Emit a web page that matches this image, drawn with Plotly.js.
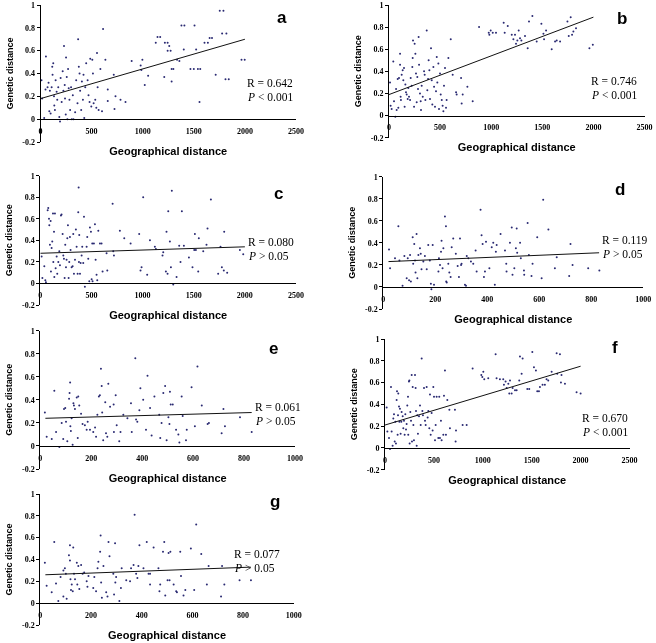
<!DOCTYPE html>
<html><head><meta charset="utf-8">
<script src="https://cdn.plot.ly/plotly-3.0.1.min.js"></script>
<style>
html,body{margin:0;padding:0;background:#fff}
#chart{width:656px;height:643px}
#chart .main-svg{will-change:transform}
#chart .xtick text, #chart .ytick text{fill:#000 !important}
</style>
</head><body><div id="chart"></div>
<script>
// ---------------- DATA ----------------
const panelLetters = ['a','b','c','d','e','f','g'];
const rValues = ['0.642','0.746','0.080','0.119','0.061','0.670','0.077'];
const pTexts  = ['< 0.001','< 0.001','> 0.05','> 0.05','> 0.05','< 0.001','> 0.05'];
const xTitle = 'Geographical distance';
const yTitle = 'Genetic distance';
const xTicksWide = [0,500,1000,1500,2000,2500];
const xTicksNarrow = [0,200,400,600,800,1000];
const yTickVals = [-0.2,0,0.2,0.4,0.6,0.8,1];
const yTickText = ['-0.2','0','0.2','0.4','0.6','0.8','1'];

const aX = [10,16,36,49,53,69,79,92,86,99,109,115,118,125,132,135,141,148,158,164,174,184,191,197,207,217,224,230,237,240,247,250,257,263,270,276,283,290,299,306,316,322,339,349,362,368,375,382,388,398,405,415,421,428,438,447,461,470,480,487,497,507,513,520,536,546,553,559,569,586,602,612,635,658,658,717,724,734,783,832,892,980,997,987,1020,1053,1128,1145,1171,1211,1217,1244,1244,1260,1273,1283,1283,1300,1336,1359,1379,1408,1402,1507,1523,1467,1500,1540,1563,1556,1605,1638,1655,1678,1714,1754,1790,1777,1819,1810,1842,1967,1998];
const aY = [0.34,0.18,0.01,0.26,0.55,0.28,0.32,0.25,0.07,0.05,0.28,0.46,0.39,0.49,0.20,0.12,0.08,0.34,0.24,0.17,0.28,0.02,-0.02,0.36,0.15,0.42,0.25,0.64,0.30,0.18,0.04,0.54,0.37,0.00,0.44,0.27,0.17,0.08,0.28,0.00,0.21,0.00,0.06,0.34,0.14,0.70,0.46,0.40,0.25,0.08,0.33,0.17,0.39,0.01,0.28,0.49,0.34,0.21,0.15,0.53,0.11,0.52,0.40,0.14,0.17,0.10,0.58,0.28,0.08,0.44,0.07,0.79,0.52,0.26,0.16,0.39,0.09,0.20,0.17,0.15,0.51,0.47,0.52,0.43,0.30,0.38,0.67,0.72,0.72,0.37,0.67,0.67,0.60,0.64,0.60,0.33,0.44,0.44,0.52,0.51,0.82,0.82,0.61,0.82,0.61,0.44,0.44,0.44,0.44,0.15,0.67,0.67,0.71,0.71,0.39,0.95,0.95,0.75,0.75,0.35,0.35,0.52,0.52];
const aLineX = [0,2000], aLineY = [0.18,0.70];

const bX = [10,16,26,42,49,62,69,75,85,91,98,108,108,114,117,124,134,140,147,153,160,166,173,183,189,196,206,212,222,228,232,235,245,251,258,264,271,277,284,290,294,303,310,313,320,330,343,349,356,369,375,382,388,395,401,411,418,424,434,441,450,460,467,473,483,489,499,506,516,525,532,538,548,558,564,581,604,623,656,662,705,711,721,767,819,881,976,982,995,1015,1047,1122,1132,1162,1201,1217,1233,1243,1256,1269,1282,1295,1331,1357,1370,1403,1445,1491,1511,1517,1537,1592,1625,1641,1674,1746,1759,1778,1791,1804,1830,1961,1994];
const bY = [0.30,0.09,0.06,0.49,0.13,-0.01,0.24,0.05,0.33,0.07,0.34,0.56,0.46,0.17,0.14,0.37,0.41,0.32,0.43,0.08,0.28,0.21,0.19,0.15,0.25,0.17,0.14,0.34,0.27,0.44,0.52,0.68,0.08,0.65,0.56,0.38,0.12,0.35,0.24,0.71,0.46,0.20,0.13,0.05,0.27,0.17,0.40,0.37,0.14,0.77,0.23,0.33,0.50,0.41,0.15,0.61,0.32,0.10,0.44,0.26,0.08,0.22,0.53,0.30,0.47,0.06,0.38,0.19,0.14,0.09,0.04,0.27,0.43,0.07,0.14,0.52,0.69,0.37,0.21,0.19,0.34,0.11,0.19,0.26,0.13,0.80,0.75,0.73,0.77,0.75,0.75,0.84,0.75,0.81,0.73,0.69,0.73,0.65,0.68,0.77,0.70,0.68,0.72,0.61,0.85,0.90,0.67,0.83,0.74,0.69,0.77,0.60,0.67,0.68,0.67,0.85,0.72,0.89,0.73,0.76,0.79,0.61,0.64];
const bLineX = [0,2000], bLineY = [0.19,0.89];

const cX = [13,20,39,49,55,72,78,85,88,94,101,104,111,117,124,127,134,137,143,150,160,166,176,186,192,202,208,218,225,231,238,244,251,257,264,270,277,283,290,296,306,316,322,329,339,348,355,365,371,375,378,381,388,394,404,410,420,427,436,453,459,469,479,485,495,502,508,511,524,534,541,550,557,567,583,599,609,648,655,707,713,720,778,821,883,967,980,990,1006,1045,1072,1120,1130,1195,1202,1228,1234,1244,1251,1267,1277,1286,1300,1332,1358,1371,1384,1404,1453,1488,1505,1511,1521,1544,1550,1593,1625,1635,1668,1739,1762,1775,1794,1798,1827,1951,1984];
const cY = [0.25,0.05,0.16,0.03,0.01,0.68,0.70,0.60,0.54,0.36,0.58,0.11,0.33,0.39,0.65,0.20,0.48,0.06,0.65,0.14,0.25,0.09,0.20,0.30,0.17,0.63,0.64,0.46,0.26,0.23,0.05,0.36,0.15,0.22,0.42,0.54,0.05,0.20,0.43,0.31,0.15,0.16,0.46,0.09,0.22,0.50,0.34,0.09,0.66,0.89,0.20,0.45,0.09,0.19,0.26,0.34,0.19,0.62,-0.03,0.34,0.43,0.23,0.02,0.52,0.48,0.04,0.37,0.02,0.37,0.55,0.22,0.08,0.03,0.49,0.37,0.37,0.11,0.28,0.12,0.74,0.30,0.26,0.49,0.42,0.37,0.46,0.12,0.15,0.80,0.08,0.40,0.34,0.32,0.26,0.29,0.11,0.48,0.09,0.67,0.39,0.15,0.86,-0.01,0.06,0.35,0.20,0.67,0.35,0.24,0.15,0.31,0.46,0.31,0.11,0.42,0.30,0.36,0.51,0.78,0.09,0.34,0.15,0.12,0.48,0.10,0.31,0.27];
const cLineX = [0,2000], cLineY = [0.28,0.34];

const dX = [22,26,45,58,62,74,81,90,94,99,103,106,113,115,119,122,124,128,131,135,141,144,147,154,160,167,173,179,183,185,190,195,212,214,218,222,224,228,231,237,241,242,244,250,254,259,263,269,279,286,291,295,299,301,314,318,321,327,337,346,355,359,374,378,382,387,391,395,408,417,423,429,433,436,451,468,473,474,487,494,497,504,510,513,515,526,529,541,542,555,560,570,574,592,609,615,635,660,667,715,720,728,788,831];
const dY = [0.34,0.17,0.26,0.55,0.24,0.01,0.28,0.08,0.26,0.06,0.29,0.05,0.45,0.21,0.39,0.24,0.13,0.48,0.08,0.29,0.35,0.30,0.16,0.23,0.28,0.16,0.38,0.24,0.03,-0.02,0.38,0.02,0.14,0.26,0.20,0.32,0.42,0.17,0.35,0.64,0.55,0.05,0.04,0.21,0.13,0.09,0.36,0.44,0.30,0.19,0.09,0.44,0.20,0.21,0.02,0.01,0.28,0.26,0.23,0.21,0.33,0.14,0.70,0.47,0.39,0.09,0.14,0.41,0.17,0.36,0.40,0.02,0.32,0.38,0.48,0.33,0.21,0.14,0.40,0.54,0.11,0.17,0.35,0.53,0.31,0.40,0.26,0.15,0.11,0.58,0.29,0.10,0.21,0.45,0.08,0.79,0.52,0.17,0.27,0.10,0.39,0.20,0.17,0.15];
const dLineX = [20,830], dLineY = [0.23,0.31];

const eX = [18,25,45,55,62,75,84,90,93,98,101,106,113,115,117,118,120,123,127,130,132,136,143,147,149,153,160,166,175,182,186,195,208,215,219,224,230,234,238,241,243,247,255,258,263,267,274,288,289,296,300,310,315,326,342,356,359,373,376,381,389,393,404,415,421,431,437,448,467,471,476,483,490,496,503,507,509,512,520,533,542,546,555,559,572,575,594,607,617,634,657,662,712,719,725,784,830];
const eY = [0.29,0.08,0.06,0.48,0.12,-0.01,0.20,0.06,0.32,0.33,0.21,0.04,0.41,0.46,0.55,0.17,0.13,0.24,0.01,0.37,0.35,0.32,0.42,0.07,0.43,0.35,0.28,0.19,0.18,0.14,0.21,0.14,0.12,0.16,0.08,0.27,0.43,0.44,0.67,0.52,0.29,0.05,0.38,0.11,0.08,0.54,0.34,0.36,0.12,0.44,0.18,0.04,0.12,0.27,0.24,0.37,0.12,0.76,0.23,0.21,0.31,0.50,0.40,0.14,0.61,0.33,0.09,0.43,0.27,0.07,0.20,0.46,0.52,0.05,0.25,0.19,0.47,0.36,0.36,0.14,0.10,0.03,0.43,0.26,0.05,0.14,0.51,0.17,0.69,0.35,0.19,0.20,0.11,0.32,0.17,0.25,0.12];
const eLineX = [20,830], eLineY = [0.24,0.29];

const fX = [17,24,41,51,61,68,78,85,92,99,106,112,119,123,129,133,136,143,147,153,160,167,170,181,187,194,201,208,215,221,228,235,238,245,249,252,259,266,273,276,283,290,296,307,313,317,324,330,337,348,358,365,375,382,388,399,409,416,426,436,443,453,460,467,477,487,494,501,511,518,528,545,555,562,572,579,596,603,613,623,637,658,664,715,722,726,794,835,896,985,995,1005,1015,1056,1131,1141,1175,1209,1216,1233,1244,1261,1271,1278,1295,1305,1329,1346,1373,1380,1407,1397,1455,1475,1506,1523,1543,1557,1574,1584,1611,1635,1652,1669,1704,1755,1789,1761,1805,1799,1840,1959,2000];
const fY = [0.37,0.15,0.09,-0.01,0.56,0.15,0.02,0.27,0.31,0.06,0.24,0.04,0.44,0.52,0.12,0.30,0.50,0.38,0.24,0.36,0.13,0.24,0.33,0.29,0.18,0.25,0.12,0.31,0.17,0.22,0.39,0.47,0.12,0.61,0.62,0.04,0.33,0.25,0.67,0.06,0.56,0.21,0.07,0.67,0.55,0.34,0.02,0.30,0.13,0.29,0.39,0.21,0.82,0.34,0.30,0.55,0.25,0.21,0.56,0.28,0.34,0.18,0.49,0.12,0.32,0.16,0.56,0.47,0.07,0.21,0.47,0.09,0.47,0.09,0.25,0.07,0.12,0.48,0.71,0.12,0.44,0.35,0.18,0.35,0.06,0.16,0.21,0.21,0.73,0.67,0.65,0.70,0.63,0.64,0.86,0.64,0.63,0.63,0.58,0.61,0.55,0.59,0.50,0.62,0.50,0.55,0.53,0.53,0.62,0.84,0.82,0.68,0.54,0.54,0.88,0.74,0.71,0.52,0.52,0.56,0.58,0.58,0.63,0.62,0.70,0.87,0.86,0.68,0.67,0.60,0.59,0.51,0.50];
const fLineX = [0,2000], fLineY = [0.21,0.75];

const gX = [18,25,45,55,62,71,80,91,91,97,101,104,113,117,117,119,121,124,128,130,133,137,144,146,150,154,161,167,173,183,186,190,209,213,220,226,229,236,238,240,243,249,260,265,269,273,288,291,295,296,299,312,318,321,339,354,358,368,372,378,383,387,391,407,420,427,433,433,447,466,470,473,484,489,493,502,506,510,513,526,536,539,552,555,565,572,594,607,615,635,657,664,713,717,726,786,831];
const gY = [0.37,0.16,0.10,0.56,0.18,0.02,0.24,0.06,0.30,0.32,0.27,0.04,0.44,0.53,0.39,0.22,0.12,0.17,0.11,0.51,0.27,0.22,0.37,0.17,0.34,0.13,0.35,0.27,0.28,0.20,0.15,0.25,0.14,0.24,0.11,0.32,0.38,0.47,0.62,0.19,0.05,0.34,0.10,0.06,0.56,0.43,0.27,0.08,0.55,0.19,0.24,0.02,0.14,0.32,0.21,0.20,0.32,0.35,0.81,0.27,0.23,0.34,0.53,0.32,0.56,0.27,0.27,0.17,0.51,0.32,0.11,0.17,0.47,0.56,0.07,0.21,0.46,0.21,0.47,0.17,0.11,0.10,0.47,0.25,0.07,0.12,0.50,0.12,0.72,0.45,0.17,0.34,0.06,0.34,0.17,0.21,0.21];
const gLineX = [20,830], gLineY = [0.26,0.33];

// ---------------- LAYOUT (pixel boxes) ----------------
const W = 656, H = 643;
const fx = px => px / W;
const fy = py => 1 - py / H;

const seriesX = [aX,bX,cX,dX,eX,fX,gX];
const seriesY = [aY,bY,cY,dY,eY,fY,gY];
const linesX = [aLineX,bLineX,cLineX,dLineX,eLineX,fLineX,gLineX];
const linesY = [aLineY,bLineY,cLineY,dLineY,eLineY,fLineY,gLineY];

const boxes = [
  {x0:40.5, x1:296,   yt:5,     yb:142,   wide:true,  let:[282,17],  r:[245,83]},
  {x0:389,  x1:644.5, yt:5,     yb:137.7, wide:true,  let:[622,19],  r:[589,81]},
  {x0:40.3, x1:296,   yt:175.7, yb:305,   wide:true,  let:[278,193], r:[246,242]},
  {x0:383.3,x1:643.3, yt:176.7, yb:309,   wide:false, let:[620,190], r:[600,240]},
  {x0:40.3, x1:295,   yt:330.7, yb:469,   wide:false, let:[273,348], r:[253,407]},
  {x0:385,  x1:629.5, yt:339,   yb:469.7, wide:true,  let:[615,347], r:[580,418]},
  {x0:40.3, x1:293.8, yt:494,   yb:625,   wide:false, let:[275,502], r:[232,554]}
];

const tickFont = {family:'Liberation Serif, Times New Roman, serif', size:8, color:'#000', weight:'bold'};
const titleFontX = {family:'Liberation Sans, Arial, sans-serif', size:11, color:'#000', weight:'bold'};
const titleFontY = {family:'Liberation Sans, Arial, sans-serif', size:9, color:'#000', weight:'bold'};

const traces = [];
const layout = {
  width: W, height: H, margin:{l:0,r:0,t:0,b:0},
  paper_bgcolor:'#fff', plot_bgcolor:'rgba(0,0,0,0)',
  showlegend:false, annotations:[]
};

boxes.forEach((b, i) => {
  const k = i + 1;
  const xs = k === 1 ? '' : String(k);
  const xRange = b.wide ? [0,2500] : [0,1000];
  const xTicks = b.wide ? xTicksWide : xTicksNarrow;
  const y0px = b.yt + (b.yb - b.yt) / 1.2;
  traces.push({
    type:'scatter', mode:'markers', x: seriesX[i], y: seriesY[i],
    xaxis:'x'+xs, yaxis:'y'+xs,
    marker:{size:2, color:'#2a2a72', symbol:'circle', line:{width:0}},
    hoverinfo:'skip'
  });
  traces.push({
    type:'scatter', mode:'lines', x: linesX[i], y: linesY[i],
    xaxis:'x'+xs, yaxis:'y'+xs,
    line:{color:'#111', width:1}, hoverinfo:'skip'
  });
  layout['xaxis'+xs] = {
    domain:[fx(b.x0), fx(b.x1)], range:xRange, anchor:'free', position: fy(y0px),
    color:'#000',
    showline:true, linecolor:'#000', linewidth:1, showgrid:false, zeroline:false,
    tickmode:'array', tickvals:xTicks, ticktext:xTicks.map(String),
    ticks:'outside', ticklen:4, tickcolor:'rgba(0,0,0,0)', tickfont:tickFont,
    title:{text:xTitle, font:titleFontX, standoff:12}, automargin:false
  };
  layout['yaxis'+xs] = {
    domain:[fy(b.yb), fy(b.yt)], range:[-0.2,1], anchor:'x'+xs,
    color:'#000',
    showline:true, linecolor:'#000', linewidth:1, showgrid:false, zeroline:false,
    tickmode:'array', tickvals:yTickVals, ticktext:yTickText,
    ticks:'outside', ticklen:3, tickcolor:'#000', tickfont:tickFont,
    title:{text:yTitle, font:titleFontY, standoff:7}, automargin:false
  };
  layout.annotations.push({
    xref:'paper', yref:'paper', x:fx(b.let[0]), y:fy(b.let[1]), xanchor:'center', yanchor:'middle',
    text:panelLetters[i], showarrow:false,
    font:{family:'Liberation Sans, Arial, sans-serif', size:17, color:'#000', weight:'bold'}
  });
  layout.annotations.push({
    xref:'paper', yref:'paper', x:fx(b.r[0]), y:fy(b.r[1]), xanchor:'left', yanchor:'middle',
    text:'R = ' + rValues[i], showarrow:false,
    font:{family:'Liberation Serif, Times New Roman, serif', size:11.5, color:'#000'}
  });
  layout.annotations.push({
    xref:'paper', yref:'paper', x:fx(b.r[0]), y:fy(b.r[1]+14), xanchor:'left', yanchor:'middle',
    text:'<i>P</i> ' + pTexts[i].replace('<','&lt;').replace('>','&gt;'), showarrow:false,
    font:{family:'Liberation Serif, Times New Roman, serif', size:11.5, color:'#000'}
  });
});

Plotly.newPlot('chart', traces, layout, {staticPlot:true, displayModeBar:false});
</script>
</body></html>
